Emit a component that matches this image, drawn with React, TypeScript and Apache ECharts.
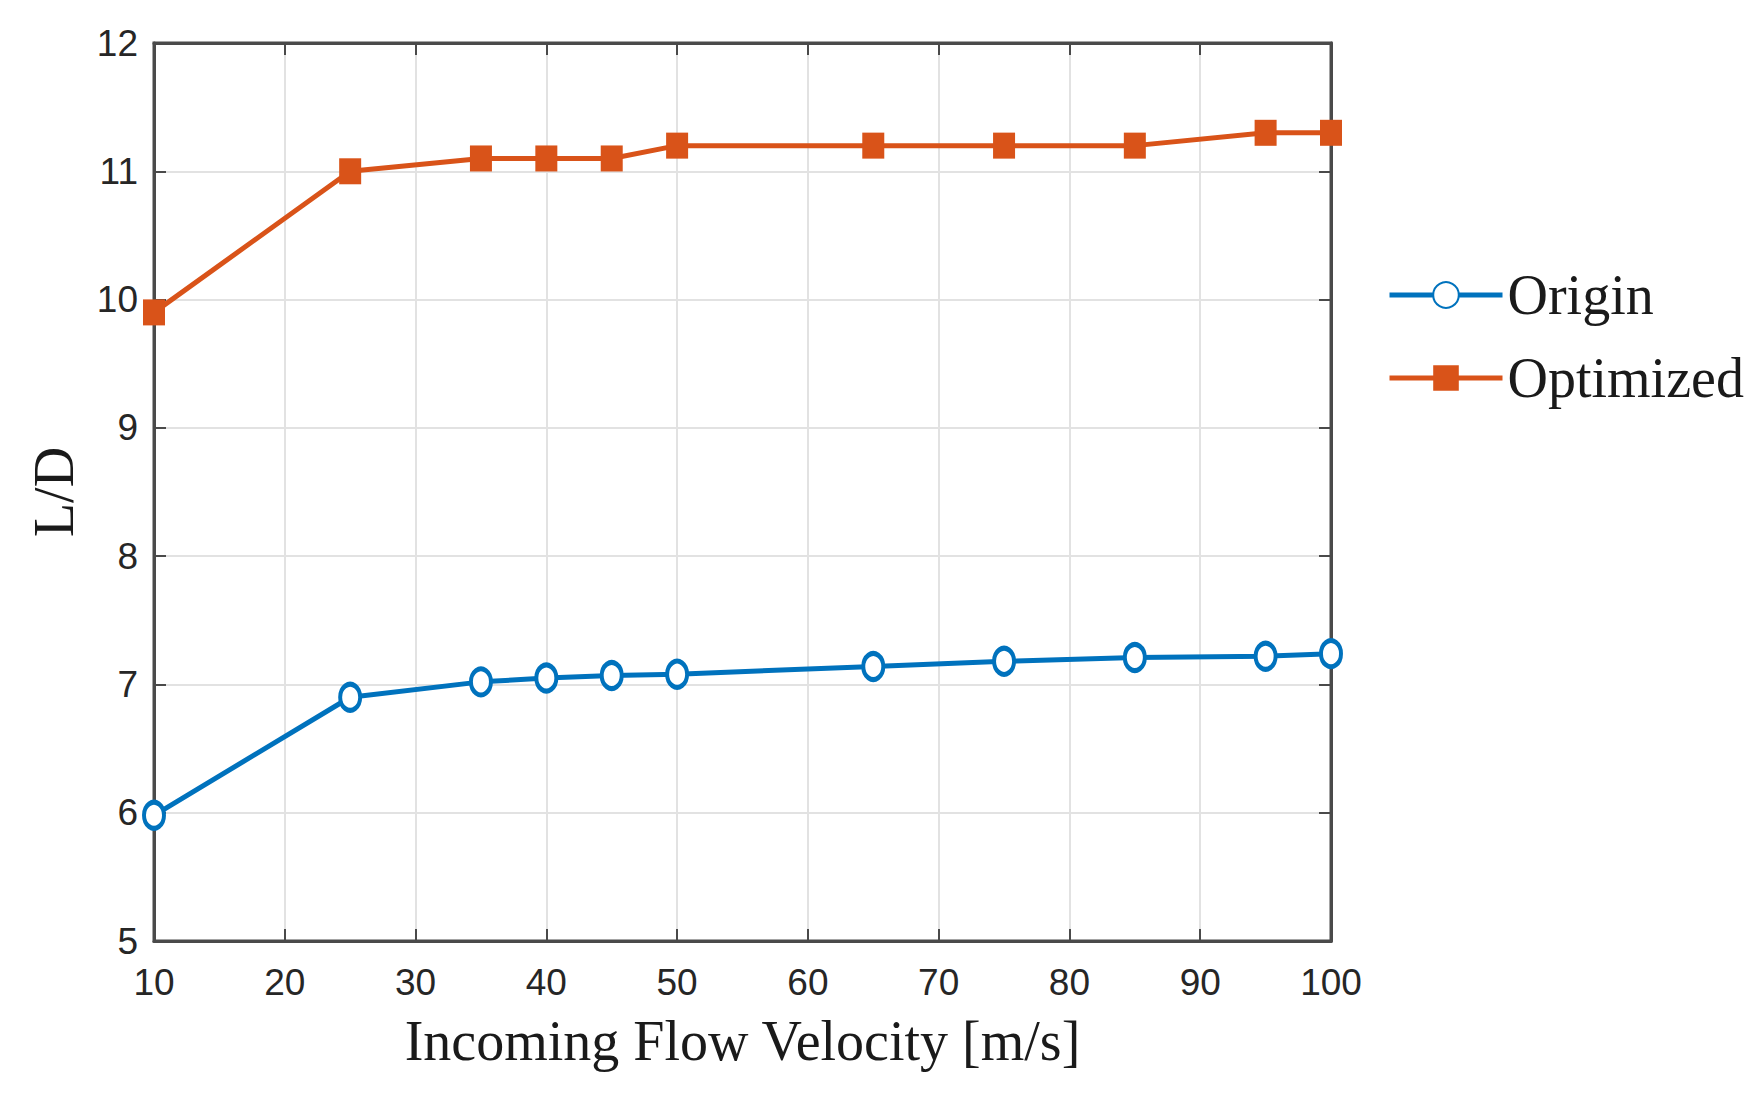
import React, { useEffect, useRef } from 'react';
import * as echarts from 'echarts';

const velocities = [10, 25, 35, 40, 45, 50, 65, 75, 85, 95, 100];
const originLD = [5.98, 6.9, 7.02, 7.05, 7.07, 7.08, 7.14, 7.18, 7.21, 7.22, 7.24];
const optimizedLD = [9.9, 11.0, 11.1, 11.1, 11.1, 11.2, 11.2, 11.2, 11.2, 11.3, 11.3];
const seriesNames = ['Origin', 'Optimized'];

export default function App() {
  const chartRef = useRef<HTMLDivElement>(null);

  useEffect(() => {
    if (!chartRef.current) return;
    document.body.style.margin = '0';
    const myChart = echarts.init(chartRef.current, null, { renderer: 'svg' });

    const axisColor = '#4a4a4a';
    const tickFont = {
      fontFamily: '"Liberation Sans", Arial, sans-serif',
      fontSize: 37,
      color: '#262626',
    };
    const serif = { fontFamily: 'Liberation Serif', fontSize: 56, color: '#1a1a1a' };

    const option = {
      animation: false,
      backgroundColor: '#fff',
      grid: {
        left: 154,
        top: 43,
        width: 1177,
        height: 898,
        show: true,
        borderColor: axisColor,
        borderWidth: 3,
      },
      legend: {
        orient: 'vertical',
        left: 1382,
        top: 262,
        itemWidth: 113,
        itemHeight: 32,
        itemGap: 27,
        textStyle: serif,
        lineStyle: { width: 5 },
        data: seriesNames,
      },
      xAxis: [
        {
          type: 'value',
          min: 10,
          max: 100,
          interval: 10,
          name: 'Incoming Flow Velocity [m/s]',
          nameLocation: 'middle',
          nameGap: 72,
          nameTextStyle: serif,
          axisLine: { show: true, lineStyle: { color: axisColor, width: 3 } },
          axisTick: { show: true, inside: true, length: 12, lineStyle: { color: axisColor, width: 2 } },
          axisLabel: { ...tickFont, margin: 23 },
          splitLine: { show: true, lineStyle: { color: '#e2e2e2', width: 2 } },
        },
        {
          type: 'value',
          position: 'top',
          min: 10,
          max: 100,
          interval: 10,
          axisLine: { show: true, lineStyle: { color: axisColor, width: 3 } },
          axisTick: { show: true, inside: true, length: 12, lineStyle: { color: axisColor, width: 2 } },
          axisLabel: { show: false },
          splitLine: { show: false },
        },
      ],
      yAxis: [
        {
          type: 'value',
          min: 5,
          max: 12,
          interval: 1,
          name: 'L/D',
          nameLocation: 'middle',
          nameGap: 72,
          nameRotate: 90,
          nameTextStyle: serif,
          axisLine: { show: true, lineStyle: { color: axisColor, width: 3 } },
          axisTick: { show: true, inside: true, length: 12, lineStyle: { color: axisColor, width: 2 } },
          axisLabel: { ...tickFont, margin: 16 },
          splitLine: { show: true, lineStyle: { color: '#e2e2e2', width: 2 } },
        },
        {
          type: 'value',
          position: 'right',
          min: 5,
          max: 12,
          interval: 1,
          axisLine: { show: true, lineStyle: { color: axisColor, width: 3 } },
          axisTick: { show: true, inside: true, length: 12, lineStyle: { color: axisColor, width: 2 } },
          axisLabel: { show: false },
          splitLine: { show: false },
        },
      ],
      series: [
        {
          name: seriesNames[0],
          type: 'line',
          data: velocities.map((v, i) => [v, originLD[i]]),
          symbol: 'circle',
          symbolSize: [20, 26],
          lineStyle: { color: '#0072BD', width: 5 },
          itemStyle: { color: '#ffffff', borderColor: '#0072BD', borderWidth: 4.5 },
          z: 3,
        },
        {
          name: seriesNames[1],
          type: 'line',
          data: velocities.map((v, i) => [v, optimizedLD[i]]),
          symbol: 'rect',
          symbolSize: [22, 26],
          lineStyle: { color: '#D95319', width: 5 },
          itemStyle: { color: '#D95319' },
          z: 3,
        },
      ],
    };

    myChart.setOption(option);

    return () => {
      myChart.dispose();
    };
  }, []);

  return <div ref={chartRef} style={{ width: '1761px', height: '1095px' }} />;
}
